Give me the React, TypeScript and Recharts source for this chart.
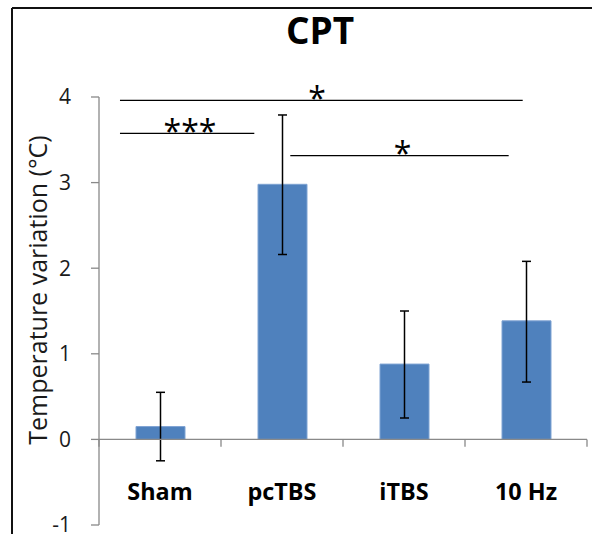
import React from 'react';
import { BarChart, Bar, XAxis, YAxis, ErrorBar, ReferenceLine, ReferenceDot } from 'recharts';

const categories = ['Sham', 'pcTBS', 'iTBS', '10 Hz'];
const slot = [0.5, 1.5, 2.5, 3.5];
const means = [0.15, 2.98, 0.88, 1.385];
const errLow = [0.4, 0.82, 0.63, 0.715];
const errHigh = [0.4, 0.81, 0.62, 0.695];
const yTicks = [-1, 0, 1, 2, 3, 4];
const boundaryTicks = [0, 1, 2, 3, 4];

const bracketStart = [0.172, 0.172, 1.568];
const bracketEnd = [3.473, 1.273, 3.358];
const bracketY = [3.96, 3.575, 3.315];
const bracketTextX = [1.787, 0.746, 2.488];
const bracketText = ['*', '***', '*'];

const data = categories.map((name, i) => ({
  name,
  pos: slot[i],
  mean: means[i],
  err: [errLow[i], errHigh[i]],
}));

const FONT = '"Open Sans", sans-serif';
const AXIS = '#898989';

const CatTick = (props: any) => {
  const { x, y, payload } = props;
  return (
    <text x={x} y={y - 25} textAnchor="middle" fontFamily={FONT} fontWeight={700} fontSize={23.4} fill="#000">
      {payload.value}
    </text>
  );
};

const starLabel = (text: string) => (props: any) => {
  const vb = props.viewBox || {};
  const cx = vb.cx ?? vb.x + (vb.width || 0) / 2;
  const cy = vb.cy ?? vb.y + (vb.height || 0) / 2;
  return (
    <text x={cx} y={cy + 9.5} textAnchor="middle" fontFamily={FONT} fontSize={32} fill="#000">
      {text}
    </text>
  );
};

export default function App() {
  return (
    <div style={{ position: 'fixed', left: 0, top: 0, width: 592, height: 534, background: '#fff', overflow: 'hidden' }}>
      <BarChart
        width={592}
        height={534}
        data={data}
        margin={{ top: 97, right: 5, bottom: 8, left: 39 }}
        barSize={49}
      >
        <XAxis
          xAxisId="cat"
          dataKey="name"
          height={1}
          axisLine={false}
          tickLine={false}
          tickSize={0}
          tickMargin={0}
          tick={<CatTick />}
          interval={0}
        />
        <XAxis
          xAxisId="num"
          dataKey="pos"
          type="number"
          domain={[0, 4]}
          ticks={boundaryTicks}
          allowDataOverflow
          hide
        />
        <YAxis
          domain={[-1, 4]}
          ticks={yTicks}
          interval={0}
          allowDataOverflow
          width={60}
          axisLine={{ stroke: AXIS, strokeWidth: 1.3 }}
          tickLine={{ stroke: AXIS, strokeWidth: 1.3 }}
          tickSize={8}
          tickMargin={20}
          tick={{ fontFamily: FONT, fontSize: 21, fill: '#1a1a1a' }}
        />
        <Bar xAxisId="cat" dataKey="mean" fill="#4F81BD" stroke="#7fa3d3" strokeWidth={1} isAnimationActive={false}>
          <ErrorBar dataKey="err" direction="y" width={4.5} stroke="#000" strokeWidth={1.5} isAnimationActive={false} />
        </Bar>
        <ReferenceLine xAxisId="num" y={0} stroke={AXIS} strokeWidth={1.3} />
        {boundaryTicks.map((t) => (
          <ReferenceLine
            key={'bt' + t}
            xAxisId="num"
            segment={[{ x: t, y: 0 }, { x: t, y: -0.085 }]}
            stroke={AXIS}
            strokeWidth={1.3}
          />
        ))}
        {bracketY.map((y, i) => (
          <ReferenceLine
            key={'br' + i}
            xAxisId="num"
            segment={[{ x: bracketStart[i], y }, { x: bracketEnd[i], y }]}
            stroke="#000"
            strokeWidth={1.3}
          />
        ))}
        {bracketY.map((y, i) => (
          <ReferenceDot
            key={'bd' + i}
            xAxisId="num"
            x={bracketTextX[i]}
            y={y}
            r={0}
            fill="none"
            stroke="none"
            label={starLabel(bracketText[i])}
          />
        ))}
      </BarChart>
      <svg width={592} height={534} style={{ position: 'absolute', left: 0, top: 0, pointerEvents: 'none' }}>
        <line x1={12} y1={8} x2={592} y2={8} stroke="#111" strokeWidth={2} />
        <line x1={12} y1={8} x2={12} y2={534} stroke="#111" strokeWidth={2} />
        <text x={320} y={44} textAnchor="middle" fontFamily={FONT} fontWeight={700} fontSize={37} fill="#000">
          CPT
        </text>
        <text
          x={47}
          y={290}
          transform="rotate(-90 47 290)"
          textAnchor="middle"
          fontFamily={FONT}
          fontSize={25}
          fill="#1a1a1a"
        >
          Temperature variation (°C)
        </text>
      </svg>
    </div>
  );
}
